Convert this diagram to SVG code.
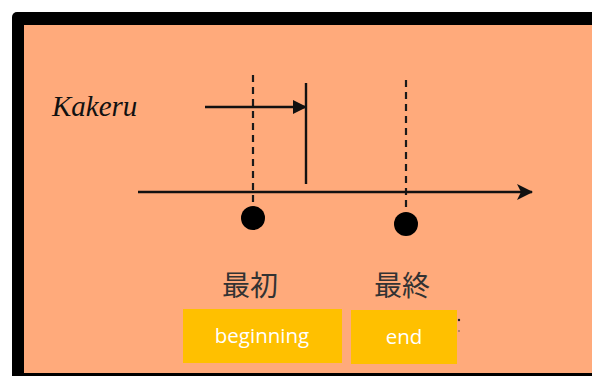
<svg xmlns="http://www.w3.org/2000/svg" width="592" height="376" viewBox="0 0 592 376">
<style>
.dash{stroke:#1a1a1a;stroke-width:2.2;stroke-dasharray:7,5;fill:none}
.line{stroke:#111;stroke-width:2.4;fill:none}
.cjk{font-family:"Noto Sans CJK JP","Noto Sans CJK SC",sans-serif;font-size:28px;fill:#333;text-anchor:middle}
.lbl{font-family:"Open Sans","Noto Sans",sans-serif;font-size:20.5px;fill:#fff;text-anchor:middle}
.box{fill:#FFC000}
</style>
<defs>
<marker id="tri" viewBox="0 0 14 14" refX="13" refY="7" markerWidth="14" markerHeight="14" markerUnits="userSpaceOnUse" orient="auto">
<path d="M0,0 L14,7 L0,14 Z" fill="#111"/>
</marker>
<marker id="chev" viewBox="0 0 16 16" refX="15" refY="8" markerWidth="16" markerHeight="16" markerUnits="userSpaceOnUse" orient="auto">
<path d="M0,0 L16,8 L0,16 L4,8 Z" fill="#111"/>
</marker>
</defs>
<rect x="0" y="0" width="592" height="376" fill="#fff"/>
<g id="frame">
<rect x="12" y="12" width="600" height="380" rx="5" fill="#000"/>
<rect x="24" y="25" width="580" height="348" fill="#FFAA7B"/>
</g>
<g id="kakeru">
<text x="52" y="116" font-family="Liberation Serif,serif" font-style="italic" font-size="29" fill="#111">Kakeru</text>
</g>
<g id="connectors">
<line class="dash" x1="253" y1="75" x2="253" y2="206"/>
<line class="dash" x1="406" y1="80" x2="406" y2="212"/>
<line class="line" x1="205" y1="107" x2="306" y2="107" marker-end="url(#tri)"/>
<line class="line" x1="306" y1="83" x2="306" y2="184"/>
<line class="line" x1="138" y1="192" x2="532" y2="192" marker-end="url(#chev)"/>
</g>
<g id="beginning-point">
<circle cx="253" cy="218" r="12" fill="#000"/>
<text class="cjk" x="250" y="296">最初</text>
</g>
<g id="end-point">
<circle cx="406" cy="224" r="12" fill="#000"/>
<text class="cjk" x="402" y="296">最終</text>
</g>
<g id="beginning-label">
<rect class="box" x="183" y="309" width="159" height="54"/>
<text class="lbl" x="262" y="343">beginning</text>
</g>
<g id="end-label">
<rect class="box" x="351" y="310" width="106" height="54"/>
<text class="lbl" x="404" y="344">end</text>
</g>
<g id="marks">
<circle cx="459" cy="320" r="1.2" fill="#222"/>
<circle cx="459" cy="331" r="0.8" fill="#555"/>
</g>
</svg>
